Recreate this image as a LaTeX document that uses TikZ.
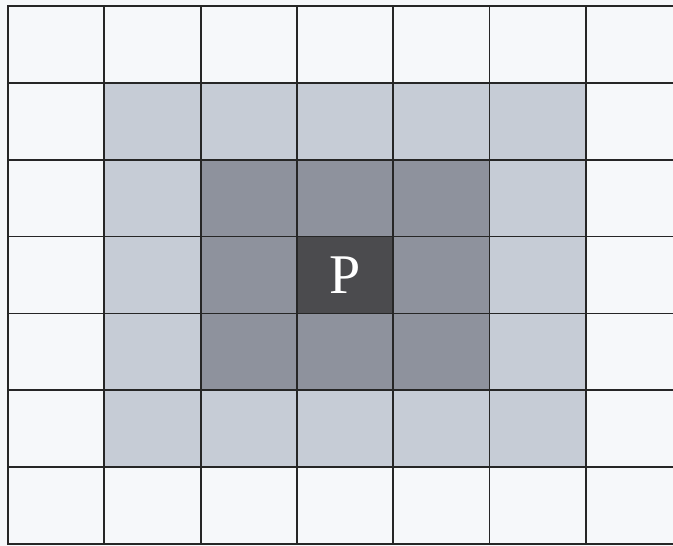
\documentclass[tikz,border=0pt]{standalone}
\usepackage{fontspec}
\setmainfont{Liberation Serif}
\definecolor{paper}{HTML}{F6F8FA}
\definecolor{ring2}{HTML}{C6CCD6}
\definecolor{ring1}{HTML}{8E929D}
\definecolor{core}{HTML}{4B4B4E}
\begin{document}
\begin{tikzpicture}[x=1pt,y=-1pt,
  cell/.style={draw=black!85, line width=1.8pt, minimum width=96.3pt, minimum height=76.86pt, inner sep=0pt, outer sep=0pt, anchor=north west},
  plabel/.style={text=white, font=\fontsize{56}{56}\selectfont}]
\useasboundingbox (0,0) rectangle (673,546);
\fill[paper] (0,0) rectangle (673,546);
\foreach \i in {0,...,6}{
  \foreach \j in {0,...,6}{
    \pgfmathtruncatemacro{\dx}{abs(\i-3)}
    \pgfmathtruncatemacro{\dy}{abs(\j-3)}
    \pgfmathtruncatemacro{\d}{max(\dx,\dy)}
    \ifcase\d \def\cc{core}\or \def\cc{ring1}\or \def\cc{ring2}\else \def\cc{paper}\fi
    \node[cell, fill=\cc] (c\i\j) at ({8+96.3*\i},{6+76.86*\j}) {};
  }
}
\node[plabel] (p) at (c33.center) {P};
\end{tikzpicture}
\end{document}
